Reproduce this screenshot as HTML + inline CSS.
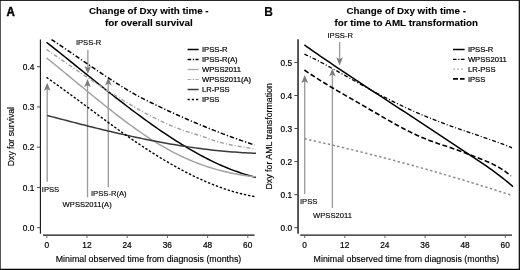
<!DOCTYPE html>
<html><head><meta charset="utf-8"><title>Change of Dxy with time</title>
<style>
html,body{margin:0;padding:0;background:#fff;}
body{width:520px;height:270px;overflow:hidden;font-family:"Liberation Sans",sans-serif;}
svg text{fill:#000;stroke:#000;stroke-width:0.1px;}
</style></head><body>
<svg width="520" height="270" viewBox="0 0 520 270" style="display:block;will-change:transform;filter:grayscale(1)">
<rect x="0" y="0" width="520" height="270" fill="#fff"/>
<path d="M0,0.45 H520" stroke="#000" stroke-width="0.9"/><path d="M0.4,0 V270" stroke="#111" stroke-width="0.8"/><path d="M519.35,0 V270" stroke="#161616" stroke-width="1.3"/><path d="M0,269.35 H520" stroke="#000" stroke-width="1.3"/>
<text transform="translate(6.6,16) scale(0.95,1)" font-size="12.2" font-weight="bold" style="stroke-width:0.45px" font-family="Liberation Sans, sans-serif">A</text>
<text x="264.2" y="16" font-size="12" text-anchor="start" font-weight="bold" font-family="Liberation Sans, sans-serif" >B</text>
<text x="148.8" y="14.4" font-size="9.6" text-anchor="middle" font-weight="bold" font-family="Liberation Sans, sans-serif" textLength="119.6" lengthAdjust="spacingAndGlyphs">Change of Dxy with time -</text>
<text x="148.8" y="26" font-size="9.6" text-anchor="middle" font-weight="bold" font-family="Liberation Sans, sans-serif" textLength="87.8" lengthAdjust="spacingAndGlyphs">for overall survival</text>
<text x="406.2" y="14.4" font-size="9.6" text-anchor="middle" font-weight="bold" font-family="Liberation Sans, sans-serif" textLength="119.6" lengthAdjust="spacingAndGlyphs">Change of Dxy with time -</text>
<text x="406.2" y="26" font-size="9.6" text-anchor="middle" font-weight="bold" font-family="Liberation Sans, sans-serif" textLength="143.4" lengthAdjust="spacingAndGlyphs">for time to AML transformation</text>
<line x1="40.4" y1="39.5" x2="40.4" y2="233.7" stroke="#111" stroke-width="1.1"/>
<line x1="43" y1="235.05" x2="254.5" y2="235.05" stroke="#111" stroke-width="1.15"/>
<line x1="37.050000000000004" y1="227.7" x2="40.4" y2="227.7" stroke="#444" stroke-width="1"/>
<text x="34.35" y="230.9" font-size="8.3" text-anchor="end" font-weight="normal" font-family="Liberation Sans, sans-serif" style="stroke-width:0.2px">0.0</text>
<line x1="37.050000000000004" y1="187.45" x2="40.4" y2="187.45" stroke="#444" stroke-width="1"/>
<text x="34.35" y="190.65" font-size="8.3" text-anchor="end" font-weight="normal" font-family="Liberation Sans, sans-serif" style="stroke-width:0.2px">0.1</text>
<line x1="37.050000000000004" y1="147.2" x2="40.4" y2="147.2" stroke="#444" stroke-width="1"/>
<text x="34.35" y="150.4" font-size="8.3" text-anchor="end" font-weight="normal" font-family="Liberation Sans, sans-serif" style="stroke-width:0.2px">0.2</text>
<line x1="37.050000000000004" y1="106.95" x2="40.4" y2="106.95" stroke="#444" stroke-width="1"/>
<text x="34.35" y="110.15" font-size="8.3" text-anchor="end" font-weight="normal" font-family="Liberation Sans, sans-serif" style="stroke-width:0.2px">0.3</text>
<line x1="37.050000000000004" y1="66.7" x2="40.4" y2="66.7" stroke="#444" stroke-width="1"/>
<text x="34.35" y="69.9" font-size="8.3" text-anchor="end" font-weight="normal" font-family="Liberation Sans, sans-serif" style="stroke-width:0.2px">0.4</text>
<line x1="46.8" y1="235.05" x2="46.8" y2="237.95000000000002" stroke="#555" stroke-width="0.9"/>
<text x="46.7" y="248.3" font-size="8.3" text-anchor="middle" font-weight="normal" font-family="Liberation Sans, sans-serif" style="stroke-width:0.2px">0</text>
<line x1="87.0" y1="235.05" x2="87.0" y2="237.95000000000002" stroke="#555" stroke-width="0.9"/>
<text x="86.9" y="248.3" font-size="8.3" text-anchor="middle" font-weight="normal" font-family="Liberation Sans, sans-serif" style="stroke-width:0.2px">12</text>
<line x1="127.2" y1="235.05" x2="127.2" y2="237.95000000000002" stroke="#555" stroke-width="0.9"/>
<text x="127.10000000000001" y="248.3" font-size="8.3" text-anchor="middle" font-weight="normal" font-family="Liberation Sans, sans-serif" style="stroke-width:0.2px">24</text>
<line x1="167.40000000000003" y1="235.05" x2="167.40000000000003" y2="237.95000000000002" stroke="#555" stroke-width="0.9"/>
<text x="167.3" y="248.3" font-size="8.3" text-anchor="middle" font-weight="normal" font-family="Liberation Sans, sans-serif" style="stroke-width:0.2px">36</text>
<line x1="207.60000000000002" y1="235.05" x2="207.60000000000002" y2="237.95000000000002" stroke="#555" stroke-width="0.9"/>
<text x="207.5" y="248.3" font-size="8.3" text-anchor="middle" font-weight="normal" font-family="Liberation Sans, sans-serif" style="stroke-width:0.2px">48</text>
<line x1="247.8" y1="235.05" x2="247.8" y2="237.95000000000002" stroke="#555" stroke-width="0.9"/>
<text x="247.7" y="248.3" font-size="8.3" text-anchor="middle" font-weight="normal" font-family="Liberation Sans, sans-serif" style="stroke-width:0.2px">60</text>
<line x1="298.05" y1="39.2" x2="298.05" y2="233.7" stroke="#3c3c3c" stroke-width="1.7"/>
<line x1="300.2" y1="235.05" x2="512" y2="235.05" stroke="#1a1a1a" stroke-width="1.15"/>
<line x1="294.4" y1="227.7" x2="298.05" y2="227.7" stroke="#444" stroke-width="1"/>
<text x="292.09999999999997" y="230.9" font-size="8.3" text-anchor="end" font-weight="normal" font-family="Liberation Sans, sans-serif" style="stroke-width:0.2px">0.0</text>
<line x1="294.4" y1="194.64999999999998" x2="298.05" y2="194.64999999999998" stroke="#444" stroke-width="1"/>
<text x="292.09999999999997" y="197.85" font-size="8.3" text-anchor="end" font-weight="normal" font-family="Liberation Sans, sans-serif" style="stroke-width:0.2px">0.1</text>
<line x1="294.4" y1="161.6" x2="298.05" y2="161.6" stroke="#444" stroke-width="1"/>
<text x="292.09999999999997" y="164.8" font-size="8.3" text-anchor="end" font-weight="normal" font-family="Liberation Sans, sans-serif" style="stroke-width:0.2px">0.2</text>
<line x1="294.4" y1="128.55" x2="298.05" y2="128.55" stroke="#444" stroke-width="1"/>
<text x="292.09999999999997" y="131.75000000000003" font-size="8.3" text-anchor="end" font-weight="normal" font-family="Liberation Sans, sans-serif" style="stroke-width:0.2px">0.3</text>
<line x1="294.4" y1="95.50000000000001" x2="298.05" y2="95.50000000000001" stroke="#444" stroke-width="1"/>
<text x="292.09999999999997" y="98.70000000000002" font-size="8.3" text-anchor="end" font-weight="normal" font-family="Liberation Sans, sans-serif" style="stroke-width:0.2px">0.4</text>
<line x1="294.4" y1="62.45" x2="298.05" y2="62.45" stroke="#444" stroke-width="1"/>
<text x="292.09999999999997" y="65.65" font-size="8.3" text-anchor="end" font-weight="normal" font-family="Liberation Sans, sans-serif" style="stroke-width:0.2px">0.5</text>
<line x1="304.7" y1="235.05" x2="304.7" y2="237.95000000000002" stroke="#555" stroke-width="0.9"/>
<text x="304.59999999999997" y="248.3" font-size="8.3" text-anchor="middle" font-weight="normal" font-family="Liberation Sans, sans-serif" style="stroke-width:0.2px">0</text>
<line x1="344.82" y1="235.05" x2="344.82" y2="237.95000000000002" stroke="#555" stroke-width="0.9"/>
<text x="344.71999999999997" y="248.3" font-size="8.3" text-anchor="middle" font-weight="normal" font-family="Liberation Sans, sans-serif" style="stroke-width:0.2px">12</text>
<line x1="384.94" y1="235.05" x2="384.94" y2="237.95000000000002" stroke="#555" stroke-width="0.9"/>
<text x="384.84" y="248.3" font-size="8.3" text-anchor="middle" font-weight="normal" font-family="Liberation Sans, sans-serif" style="stroke-width:0.2px">24</text>
<line x1="425.06" y1="235.05" x2="425.06" y2="237.95000000000002" stroke="#555" stroke-width="0.9"/>
<text x="424.96" y="248.3" font-size="8.3" text-anchor="middle" font-weight="normal" font-family="Liberation Sans, sans-serif" style="stroke-width:0.2px">36</text>
<line x1="465.18" y1="235.05" x2="465.18" y2="237.95000000000002" stroke="#555" stroke-width="0.9"/>
<text x="465.08" y="248.3" font-size="8.3" text-anchor="middle" font-weight="normal" font-family="Liberation Sans, sans-serif" style="stroke-width:0.2px">48</text>
<line x1="505.3" y1="235.05" x2="505.3" y2="237.95000000000002" stroke="#555" stroke-width="0.9"/>
<text x="505.2" y="248.3" font-size="8.3" text-anchor="middle" font-weight="normal" font-family="Liberation Sans, sans-serif" style="stroke-width:0.2px">60</text>
<text x="55.7" y="261.8" font-size="9.6" text-anchor="start" font-weight="normal" font-family="Liberation Sans, sans-serif" textLength="185.6" lengthAdjust="spacingAndGlyphs" style="stroke-width:0.16px">Minimal observed time from diagnosis (months)</text>
<text x="313.6" y="261.8" font-size="9.6" text-anchor="start" font-weight="normal" font-family="Liberation Sans, sans-serif" textLength="185.6" lengthAdjust="spacingAndGlyphs" style="stroke-width:0.16px">Minimal observed time from diagnosis (months)</text>
<text transform="translate(14.2,166.2) rotate(-90)" font-size="9.7" style="stroke-width:0.16px" font-family="Liberation Sans, sans-serif" textLength="59.2" lengthAdjust="spacingAndGlyphs">Dxy for survival</text>
<text transform="translate(272.4,189.6) rotate(-90)" font-size="9.7" style="stroke-width:0.16px" font-family="Liberation Sans, sans-serif" textLength="106.6" lengthAdjust="spacingAndGlyphs">Dxy for AML transformation</text>
<line x1="47.2" y1="88.6" x2="47.2" y2="181.8" stroke="#9c9c9c" stroke-width="1.35"/><path d="M47.2,82.7 L50.5,90.8 L47.2,88.89999999999999 L43.900000000000006,90.8 Z" fill="#7c7c7c"/>
<line x1="87.5" y1="84.89999999999999" x2="87.5" y2="197.4" stroke="#9c9c9c" stroke-width="1.35"/><path d="M87.5,79 L90.8,87.1 L87.5,85.19999999999999 L84.2,87.1 Z" fill="#7c7c7c"/>
<line x1="108.3" y1="83.3" x2="108.3" y2="187.2" stroke="#9c9c9c" stroke-width="1.35"/><path d="M108.3,77.4 L111.6,85.5 L108.3,83.6 L105.0,85.5 Z" fill="#7c7c7c"/>
<line x1="87.85" y1="50" x2="87.85" y2="68.10000000000001" stroke="#9c9c9c" stroke-width="1.35"/><path d="M87.85,74 L91.14999999999999,65.9 L87.85,67.80000000000001 L84.55,65.9 Z" fill="#7c7c7c"/>
<line x1="304.7" y1="80.89999999999999" x2="304.7" y2="194" stroke="#9c9c9c" stroke-width="1.35"/><path d="M304.7,75 L308.0,83.1 L304.7,81.19999999999999 L301.4,83.1 Z" fill="#7c7c7c"/>
<line x1="332.4" y1="74.3" x2="332.4" y2="208" stroke="#9c9c9c" stroke-width="1.35"/><path d="M332.4,68.4 L335.7,76.5 L332.4,74.6 L329.09999999999997,76.5 Z" fill="#7c7c7c"/>
<line x1="339.6" y1="42" x2="339.6" y2="59.5" stroke="#9c9c9c" stroke-width="1.35"/><path d="M339.6,65.4 L342.90000000000003,57.300000000000004 L339.6,59.2 L336.3,57.300000000000004 Z" fill="#7c7c7c"/>
<path d="M46.50,42.23 L49.15,44.33 L51.80,46.43 L54.46,48.55 L57.11,50.66 L59.76,52.78 L62.41,54.91 L65.06,57.04 L67.72,59.17 L70.37,61.31 L73.02,63.44 L75.67,65.58 L78.32,67.72 L80.97,69.85 L83.63,71.99 L86.28,74.12 L88.93,76.26 L91.58,78.39 L94.23,80.51 L96.89,82.63 L99.54,84.75 L102.19,86.86 L104.84,88.97 L107.49,91.06 L110.15,93.15 L112.80,95.24 L115.45,97.31 L118.10,99.37 L120.75,101.43 L123.41,103.47 L126.06,105.50 L128.71,107.52 L131.36,109.53 L134.01,111.52 L136.66,113.50 L139.32,115.47 L141.97,117.42 L144.62,119.35 L147.27,121.26 L149.92,123.16 L152.58,125.04 L155.23,126.91 L157.88,128.75 L160.53,130.57 L163.18,132.38 L165.84,134.16 L168.49,135.92 L171.14,137.65 L173.79,139.37 L176.44,141.06 L179.09,142.72 L181.75,144.36 L184.40,145.98 L187.05,147.56 L189.70,149.13 L192.35,150.66 L195.01,152.16 L197.66,153.64 L200.31,155.08 L202.96,156.50 L205.61,157.88 L208.27,159.23 L210.92,160.55 L213.57,161.84 L216.22,163.09 L218.87,164.31 L221.53,165.50 L224.18,166.64 L226.83,167.76 L229.48,168.83 L232.13,169.87 L234.78,170.87 L237.44,171.83 L240.09,172.75 L242.74,173.63 L245.39,174.47 L248.04,175.26 L250.70,176.02 L253.35,176.73 L256.00,177.40" fill="none" stroke="#000" stroke-width="1.5"/>
<path d="M51.50,39.53 L54.07,41.24 L56.64,42.96 L59.21,44.68 L61.78,46.42 L64.35,48.16 L66.92,49.90 L69.49,51.65 L72.06,53.40 L74.63,55.16 L77.20,56.92 L79.77,58.67 L82.34,60.43 L84.91,62.18 L87.47,63.93 L90.04,65.68 L92.61,67.42 L95.18,69.16 L97.75,70.89 L100.32,72.61 L102.89,74.32 L105.46,76.02 L108.03,77.71 L110.60,79.39 L113.17,81.06 L115.74,82.71 L118.31,84.34 L120.88,85.96 L123.45,87.56 L126.02,89.13 L128.59,90.67 L131.16,92.18 L133.73,93.66 L136.30,95.09 L138.87,96.49 L141.44,97.84 L144.01,99.16 L146.58,100.44 L149.15,101.71 L151.72,102.97 L154.28,104.22 L156.85,105.46 L159.42,106.69 L161.99,107.90 L164.56,109.11 L167.13,110.31 L169.70,111.50 L172.27,112.67 L174.84,113.84 L177.41,115.00 L179.98,116.14 L182.55,117.28 L185.12,118.40 L187.69,119.52 L190.26,120.63 L192.83,121.72 L195.40,122.81 L197.97,123.88 L200.54,124.95 L203.11,126.00 L205.68,127.05 L208.25,128.08 L210.82,129.11 L213.39,130.12 L215.96,131.13 L218.53,132.12 L221.09,133.10 L223.66,134.08 L226.23,135.04 L228.80,136.00 L231.37,136.94 L233.94,137.87 L236.51,138.80 L239.08,139.71 L241.65,140.61 L244.22,141.51 L246.79,142.39 L249.36,143.26 L251.93,144.13 L254.50,144.98" fill="none" stroke="#000" stroke-width="1.5" stroke-dasharray="4.5 2 1.2 2"/>
<path d="M46.50,57.91 L49.15,60.04 L51.80,62.17 L54.46,64.31 L57.11,66.47 L59.76,68.63 L62.41,70.80 L65.06,72.98 L67.72,75.15 L70.37,77.34 L73.02,79.52 L75.67,81.71 L78.32,83.89 L80.97,86.08 L83.63,88.26 L86.28,90.44 L88.93,92.61 L91.58,94.78 L94.23,96.94 L96.89,99.09 L99.54,101.23 L102.19,103.36 L104.84,105.48 L107.49,107.59 L110.15,109.68 L112.80,111.76 L115.45,113.82 L118.10,115.86 L120.75,117.88 L123.41,119.89 L126.06,121.87 L128.71,123.83 L131.36,125.76 L134.01,127.67 L136.66,129.56 L139.32,131.41 L141.97,133.24 L144.62,135.04 L147.27,136.81 L149.92,138.55 L152.58,140.25 L155.23,141.92 L157.88,143.55 L160.53,145.15 L163.18,146.71 L165.84,148.23 L168.49,149.71 L171.14,151.15 L173.79,152.54 L176.44,153.90 L179.09,155.21 L181.75,156.48 L184.40,157.70 L187.05,158.89 L189.70,160.03 L192.35,161.14 L195.01,162.20 L197.66,163.23 L200.31,164.22 L202.96,165.17 L205.61,166.08 L208.27,166.95 L210.92,167.79 L213.57,168.59 L216.22,169.36 L218.87,170.09 L221.53,170.78 L224.18,171.44 L226.83,172.07 L229.48,172.67 L232.13,173.23 L234.78,173.76 L237.44,174.26 L240.09,174.72 L242.74,175.16 L245.39,175.56 L248.04,175.94 L250.70,176.29 L253.35,176.61 L256.00,176.90" fill="none" stroke="#a2a2a2" stroke-width="1.45"/>
<path d="M46.50,49.42 L49.15,51.25 L51.79,53.07 L54.44,54.90 L57.09,56.73 L59.73,58.55 L62.38,60.38 L65.03,62.20 L67.67,64.02 L70.32,65.84 L72.97,67.66 L75.62,69.47 L78.26,71.27 L80.91,73.07 L83.56,74.86 L86.20,76.65 L88.85,78.43 L91.50,80.20 L94.14,81.96 L96.79,83.70 L99.44,85.44 L102.08,87.17 L104.73,88.89 L107.38,90.59 L110.02,92.28 L112.67,93.95 L115.32,95.61 L117.96,97.26 L120.61,98.89 L123.26,100.50 L125.91,102.09 L128.55,103.67 L131.20,105.23 L133.85,106.76 L136.49,108.28 L139.14,109.78 L141.79,111.25 L144.43,112.69 L147.08,114.11 L149.73,115.51 L152.37,116.87 L155.02,118.21 L157.67,119.52 L160.31,120.79 L162.96,122.04 L165.61,123.25 L168.25,124.42 L170.90,125.56 L173.55,126.66 L176.19,127.72 L178.84,128.75 L181.49,129.73 L184.14,130.67 L186.78,131.57 L189.43,132.42 L192.08,133.23 L194.72,134.00 L197.37,134.77 L200.02,135.57 L202.66,136.44 L205.31,137.40 L207.96,138.39 L210.60,139.35 L213.25,140.26 L215.90,141.09 L218.54,141.87 L221.19,142.60 L223.84,143.27 L226.48,143.90 L229.13,144.49 L231.78,145.04 L234.43,145.55 L237.07,146.03 L239.72,146.49 L242.37,146.93 L245.01,147.35 L247.66,147.75 L250.31,148.15 L252.95,148.54 L255.60,148.94" fill="none" stroke="#a2a2a2" stroke-width="1.45" stroke-dasharray="4 2 1 2"/>
<path d="M47.20,115.46 L49.84,116.16 L52.49,116.86 L55.13,117.56 L57.77,118.26 L60.42,118.95 L63.06,119.64 L65.70,120.33 L68.34,121.02 L70.99,121.71 L73.63,122.39 L76.27,123.07 L78.92,123.75 L81.56,124.42 L84.20,125.09 L86.85,125.75 L89.49,126.42 L92.13,127.08 L94.77,127.73 L97.42,128.38 L100.06,129.03 L102.70,129.67 L105.35,130.30 L107.99,130.93 L110.63,131.56 L113.28,132.18 L115.92,132.80 L118.56,133.41 L121.21,134.01 L123.85,134.61 L126.49,135.20 L129.13,135.79 L131.78,136.36 L134.42,136.94 L137.06,137.50 L139.71,138.06 L142.35,138.61 L144.99,139.16 L147.64,139.69 L150.28,140.22 L152.92,140.74 L155.56,141.26 L158.21,141.76 L160.85,142.26 L163.49,142.75 L166.14,143.23 L168.78,143.70 L171.42,144.16 L174.07,144.61 L176.71,145.05 L179.35,145.49 L181.99,145.91 L184.64,146.33 L187.28,146.73 L189.92,147.12 L192.57,147.51 L195.21,147.88 L197.85,148.24 L200.50,148.59 L203.14,148.94 L205.78,149.27 L208.43,149.58 L211.07,149.89 L213.71,150.19 L216.35,150.47 L219.00,150.74 L221.64,151.00 L224.28,151.25 L226.93,151.48 L229.57,151.71 L232.21,151.92 L234.86,152.11 L237.50,152.30 L240.14,152.47 L242.78,152.63 L245.43,152.78 L248.07,152.91 L250.71,153.03 L253.36,153.13 L256.00,153.22" fill="none" stroke="#3a3a3a" stroke-width="1.5"/>
<path d="M46.50,77.36 L49.15,79.22 L51.79,81.08 L54.44,82.97 L57.09,84.86 L59.73,86.76 L62.38,88.68 L65.03,90.60 L67.67,92.53 L70.32,94.47 L72.97,96.41 L75.62,98.36 L78.26,100.31 L80.91,102.27 L83.56,104.22 L86.20,106.18 L88.85,108.14 L91.50,110.10 L94.14,112.06 L96.79,114.01 L99.44,115.96 L102.08,117.91 L104.73,119.85 L107.38,121.79 L110.02,123.71 L112.67,125.63 L115.32,127.54 L117.96,129.44 L120.61,131.33 L123.26,133.20 L125.91,135.07 L128.55,136.91 L131.20,138.75 L133.85,140.56 L136.49,142.36 L139.14,144.15 L141.79,145.91 L144.43,147.66 L147.08,149.39 L149.73,151.09 L152.37,152.78 L155.02,154.45 L157.67,156.09 L160.31,157.72 L162.96,159.32 L165.61,160.90 L168.25,162.45 L170.90,163.98 L173.55,165.48 L176.19,166.96 L178.84,168.42 L181.49,169.85 L184.14,171.25 L186.78,172.62 L189.43,173.96 L192.08,175.28 L194.72,176.56 L197.37,177.82 L200.02,179.05 L202.66,180.24 L205.31,181.40 L207.96,182.53 L210.60,183.63 L213.25,184.70 L215.90,185.73 L218.54,186.72 L221.19,187.68 L223.84,188.61 L226.48,189.50 L229.13,190.35 L231.78,191.17 L234.43,191.94 L237.07,192.68 L239.72,193.38 L242.37,194.04 L245.01,194.66 L247.66,195.24 L250.31,195.77 L252.95,196.27 L255.60,196.72" fill="none" stroke="#000" stroke-width="1.38" stroke-dasharray="2.4 1.8"/>
<path d="M304.40,44.98 L307.04,46.85 L309.68,48.70 L312.32,50.55 L314.96,52.38 L317.60,54.21 L320.24,56.03 L322.88,57.84 L325.52,59.65 L328.16,61.45 L330.81,63.24 L333.45,65.03 L336.09,66.81 L338.73,68.58 L341.37,70.35 L344.01,72.12 L346.65,73.87 L349.29,75.63 L351.93,77.38 L354.57,79.13 L357.21,80.87 L359.85,82.61 L362.49,84.35 L365.13,86.08 L367.77,87.81 L370.41,89.54 L373.05,91.27 L375.69,93.00 L378.33,94.72 L380.97,96.45 L383.62,98.17 L386.26,99.89 L388.90,101.62 L391.54,103.34 L394.18,105.07 L396.82,106.79 L399.46,108.52 L402.10,110.25 L404.74,111.98 L407.38,113.71 L410.02,115.45 L412.66,117.18 L415.30,118.92 L417.94,120.66 L420.58,122.40 L423.22,124.14 L425.86,125.89 L428.50,127.63 L431.14,129.38 L433.78,131.12 L436.43,132.87 L439.07,134.61 L441.71,136.36 L444.35,138.10 L446.99,139.85 L449.63,141.59 L452.27,143.34 L454.91,145.08 L457.55,146.82 L460.19,148.56 L462.83,150.30 L465.47,152.04 L468.11,153.77 L470.75,155.51 L473.39,157.26 L476.03,159.02 L478.67,160.79 L481.31,162.58 L483.95,164.39 L486.59,166.22 L489.24,168.08 L491.88,169.97 L494.52,171.89 L497.16,173.86 L499.80,175.86 L502.44,177.91 L505.08,180.00 L507.72,182.14 L510.36,184.34 L513.00,186.60" fill="none" stroke="#000" stroke-width="1.5"/>
<path d="M304.40,54.05 L307.03,55.29 L309.66,56.55 L312.28,57.85 L314.91,59.17 L317.54,60.52 L320.17,61.89 L322.79,63.28 L325.42,64.68 L328.05,66.10 L330.68,67.54 L333.31,68.99 L335.93,70.44 L338.56,71.91 L341.19,73.38 L343.82,74.85 L346.45,76.33 L349.07,77.81 L351.70,79.29 L354.33,80.76 L356.96,82.24 L359.58,83.70 L362.21,85.16 L364.84,86.62 L367.47,88.06 L370.10,89.50 L372.72,90.93 L375.35,92.34 L377.98,93.74 L380.61,95.13 L383.24,96.51 L385.86,97.87 L388.49,99.21 L391.12,100.54 L393.75,101.85 L396.37,103.14 L399.00,104.42 L401.63,105.68 L404.26,106.92 L406.89,108.15 L409.51,109.35 L412.14,110.54 L414.77,111.71 L417.40,112.86 L420.03,113.99 L422.65,115.11 L425.28,116.20 L427.91,117.28 L430.54,118.34 L433.16,119.39 L435.79,120.42 L438.42,121.43 L441.05,122.43 L443.68,123.41 L446.30,124.39 L448.93,125.34 L451.56,126.29 L454.19,127.23 L456.82,128.15 L459.44,129.07 L462.07,129.98 L464.70,130.88 L467.33,131.78 L469.95,132.67 L472.58,133.56 L475.21,134.45 L477.84,135.34 L480.47,136.24 L483.09,137.13 L485.72,138.03 L488.35,138.94 L490.98,139.86 L493.61,140.79 L496.23,141.73 L498.86,142.69 L501.49,143.66 L504.12,144.66 L506.74,145.67 L509.37,146.71 L512.00,147.78" fill="none" stroke="#000" stroke-width="1.3" stroke-dasharray="4 2 1 2"/>
<path d="M304.40,138.76 L307.02,139.34 L309.63,139.91 L312.25,140.49 L314.86,141.08 L317.48,141.66 L320.09,142.25 L322.71,142.85 L325.32,143.45 L327.94,144.05 L330.55,144.65 L333.17,145.26 L335.78,145.88 L338.40,146.49 L341.01,147.11 L343.63,147.73 L346.24,148.36 L348.86,148.99 L351.47,149.63 L354.09,150.26 L356.70,150.90 L359.32,151.55 L361.93,152.20 L364.55,152.85 L367.16,153.51 L369.78,154.17 L372.39,154.83 L375.01,155.49 L377.63,156.16 L380.24,156.84 L382.86,157.52 L385.47,158.20 L388.09,158.88 L390.70,159.57 L393.32,160.26 L395.93,160.96 L398.55,161.65 L401.16,162.36 L403.78,163.06 L406.39,163.77 L409.01,164.49 L411.62,165.20 L414.24,165.92 L416.85,166.65 L419.47,167.38 L422.08,168.11 L424.70,168.84 L427.31,169.58 L429.93,170.32 L432.54,171.07 L435.16,171.82 L437.77,172.57 L440.39,173.33 L443.01,174.09 L445.62,174.85 L448.24,175.62 L450.85,176.39 L453.47,177.16 L456.08,177.94 L458.70,178.72 L461.31,179.51 L463.93,180.30 L466.54,181.09 L469.16,181.89 L471.77,182.69 L474.39,183.49 L477.00,184.30 L479.62,185.11 L482.23,185.92 L484.85,186.74 L487.46,187.56 L490.08,188.38 L492.69,189.21 L495.31,190.04 L497.92,190.88 L500.54,191.72 L503.15,192.56 L505.77,193.41 L508.38,194.26 L511.00,195.11" fill="none" stroke="#8e8e8e" stroke-width="1.5" stroke-dasharray="2.4 2.4"/>
<path d="M304.40,70.01 L307.02,71.80 L309.63,73.56 L312.25,75.29 L314.86,77.00 L317.48,78.67 L320.09,80.32 L322.71,81.95 L325.32,83.55 L327.94,85.14 L330.55,86.71 L333.17,88.26 L335.78,89.81 L338.40,91.33 L341.01,92.85 L343.63,94.36 L346.24,95.87 L348.86,97.37 L351.47,98.87 L354.09,100.36 L356.70,101.86 L359.32,103.36 L361.93,104.87 L364.55,106.39 L367.16,107.91 L369.78,109.44 L372.39,110.97 L375.01,112.50 L377.63,114.03 L380.24,115.55 L382.86,117.07 L385.47,118.59 L388.09,120.09 L390.70,121.57 L393.32,123.04 L395.93,124.50 L398.55,125.93 L401.16,127.34 L403.78,128.72 L406.39,130.07 L409.01,131.40 L411.62,132.69 L414.24,133.95 L416.85,135.17 L419.47,136.35 L422.08,137.49 L424.70,138.58 L427.31,139.63 L429.93,140.63 L432.54,141.59 L435.16,142.52 L437.77,143.43 L440.39,144.31 L443.01,145.19 L445.62,146.05 L448.24,146.92 L450.85,147.79 L453.47,148.68 L456.08,149.58 L458.70,150.51 L461.31,151.47 L463.93,152.47 L466.54,153.49 L469.16,154.51 L471.77,155.53 L474.39,156.52 L477.00,157.52 L479.62,158.53 L482.23,159.56 L484.85,160.62 L487.46,161.73 L490.08,162.90 L492.69,164.14 L495.31,165.46 L497.92,166.88 L500.54,168.40 L503.15,170.05 L505.77,171.83 L508.38,173.77 L511.00,175.89" fill="none" stroke="#000" stroke-width="1.6" stroke-dasharray="5 2.5"/>
<text x="75.9" y="45.1" font-size="7.65" text-anchor="start" font-weight="normal" font-family="Liberation Sans, sans-serif" style="stroke-width:0.13px">IPSS-R</text>
<text x="41.8" y="191.8" font-size="7.65" text-anchor="start" font-weight="normal" font-family="Liberation Sans, sans-serif" style="stroke-width:0.13px">IPSS</text>
<text x="91" y="196" font-size="7.65" text-anchor="start" font-weight="normal" font-family="Liberation Sans, sans-serif" style="stroke-width:0.13px">IPSS-R(A)</text>
<text x="62.6" y="207" font-size="7.65" text-anchor="start" font-weight="normal" font-family="Liberation Sans, sans-serif" style="stroke-width:0.13px">WPSS2011(A)</text>
<text x="327.5" y="37.5" font-size="7.65" text-anchor="start" font-weight="normal" font-family="Liberation Sans, sans-serif" style="stroke-width:0.13px">IPSS-R</text>
<text x="300" y="204.4" font-size="7.65" text-anchor="start" font-weight="normal" font-family="Liberation Sans, sans-serif" style="stroke-width:0.13px">IPSS</text>
<text x="313" y="218" font-size="7.65" text-anchor="start" font-weight="normal" font-family="Liberation Sans, sans-serif" style="stroke-width:0.13px">WPSS2011</text>
<line x1="187.6" y1="49.5" x2="198.6" y2="49.5" stroke="#000" stroke-width="1.5"/>
<text x="202" y="52.25" font-size="7.65" text-anchor="start" font-weight="normal" font-family="Liberation Sans, sans-serif" style="stroke-width:0.2px">IPSS-R</text>
<line x1="187.6" y1="59.5" x2="198.6" y2="59.5" stroke="#000" stroke-width="1.5" stroke-dasharray="3.6 1.6 1.3 1.4"/>
<text x="202" y="62.25" font-size="7.65" text-anchor="start" font-weight="normal" font-family="Liberation Sans, sans-serif" style="stroke-width:0.2px">IPSS-R(A)</text>
<line x1="187.6" y1="69.5" x2="198.6" y2="69.5" stroke="#a6a6a6" stroke-width="1.3"/>
<text x="202" y="72.25" font-size="7.65" text-anchor="start" font-weight="normal" font-family="Liberation Sans, sans-serif" style="stroke-width:0.2px">WPSS2011</text>
<line x1="187.6" y1="79.5" x2="198.6" y2="79.5" stroke="#a6a6a6" stroke-width="1.15" stroke-dasharray="3.6 1.6 1.3 1.4"/>
<text x="202" y="82.25" font-size="7.65" text-anchor="start" font-weight="normal" font-family="Liberation Sans, sans-serif" style="stroke-width:0.2px">WPSS2011(A)</text>
<line x1="187.6" y1="89.5" x2="198.6" y2="89.5" stroke="#3a3a3a" stroke-width="1.5"/>
<text x="202" y="92.25" font-size="7.65" text-anchor="start" font-weight="normal" font-family="Liberation Sans, sans-serif" style="stroke-width:0.2px">LR-PSS</text>
<line x1="187.6" y1="99.5" x2="198.6" y2="99.5" stroke="#000" stroke-width="1.5" stroke-dasharray="2.2 2"/>
<text x="202" y="102.25" font-size="7.65" text-anchor="start" font-weight="normal" font-family="Liberation Sans, sans-serif" style="stroke-width:0.2px">IPSS</text>
<line x1="453" y1="49.5" x2="464.6" y2="49.5" stroke="#000" stroke-width="1.5"/>
<text x="467.9" y="52.25" font-size="7.65" text-anchor="start" font-weight="normal" font-family="Liberation Sans, sans-serif" style="stroke-width:0.2px">IPSS-R</text>
<line x1="453" y1="59.3" x2="464.6" y2="59.3" stroke="#000" stroke-width="1.35" stroke-dasharray="3.6 1.6 1.3 1.4"/>
<text x="467.9" y="62.05" font-size="7.65" text-anchor="start" font-weight="normal" font-family="Liberation Sans, sans-serif" style="stroke-width:0.2px">WPSS2011</text>
<line x1="453" y1="69.1" x2="464.6" y2="69.1" stroke="#a8a8a8" stroke-width="1.4" stroke-dasharray="1.8 2.2"/>
<text x="467.9" y="71.85" font-size="7.65" text-anchor="start" font-weight="normal" font-family="Liberation Sans, sans-serif" style="stroke-width:0.2px">LR-PSS</text>
<line x1="453" y1="78.9" x2="464.6" y2="78.9" stroke="#000" stroke-width="1.6" stroke-dasharray="5 2"/>
<text x="467.9" y="81.65" font-size="7.65" text-anchor="start" font-weight="normal" font-family="Liberation Sans, sans-serif" style="stroke-width:0.2px">IPSS</text>
</svg>
</body></html>
